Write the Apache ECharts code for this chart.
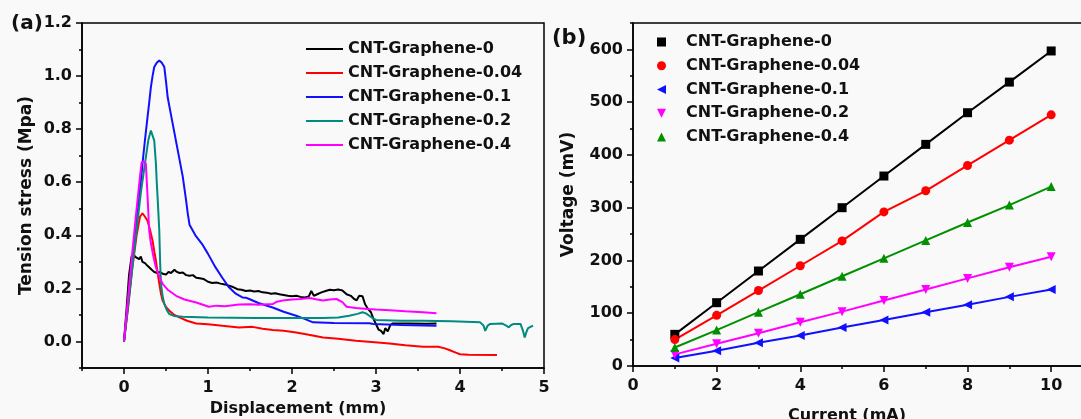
<!DOCTYPE html>
<html>
<head>
<meta charset="utf-8">
<script src="https://cdn.jsdelivr.net/npm/echarts@6/dist/echarts.min.js"></script>
<style>html,body{margin:0;padding:0;background:#f9f9f9;}#c{width:1081px;height:419px;}</style>
</head>
<body>
<div id="c"></div>
<script>
// ---------- Panel (a): tension stress vs displacement ----------
const seriesNamesA = ['CNT-Graphene-0','CNT-Graphene-0.04','CNT-Graphene-0.1','CNT-Graphene-0.2','CNT-Graphene-0.4'];
const stressG0 = [[0,0],[0.03,0.12],[0.06,0.25],[0.09,0.32],[0.11,0.335],[0.13,0.32],[0.15,0.325],[0.18,0.31],[0.2,0.32],[0.22,0.3],[0.25,0.295],[0.28,0.285],[0.3,0.28],[0.33,0.27],[0.36,0.262],[0.4,0.258],[0.43,0.262],[0.46,0.255],[0.5,0.252],[0.53,0.262],[0.56,0.258],[0.6,0.27],[0.63,0.262],[0.66,0.258],[0.7,0.26],[0.74,0.25],[0.78,0.248],[0.82,0.25],[0.86,0.24],[0.9,0.238],[0.95,0.235],[1.0,0.225],[1.05,0.22],[1.1,0.222],[1.15,0.218],[1.2,0.215],[1.25,0.21],[1.3,0.205],[1.35,0.197],[1.4,0.195],[1.45,0.19],[1.5,0.192],[1.55,0.188],[1.6,0.19],[1.65,0.185],[1.7,0.184],[1.75,0.18],[1.8,0.182],[1.85,0.178],[1.9,0.175],[1.95,0.172],[2.0,0.17],[2.05,0.172],[2.1,0.168],[2.15,0.166],[2.2,0.17],[2.23,0.19],[2.26,0.172],[2.3,0.178],[2.35,0.185],[2.4,0.19],[2.45,0.195],[2.5,0.193],[2.55,0.196],[2.6,0.192],[2.65,0.178],[2.7,0.172],[2.74,0.16],[2.77,0.155],[2.8,0.172],[2.84,0.17],[2.87,0.14],[2.9,0.125],[2.94,0.11],[2.97,0.085],[3.0,0.065],[3.03,0.045],[3.06,0.04],[3.09,0.028],[3.11,0.05],[3.14,0.038],[3.17,0.062],[3.2,0.068],[3.4,0.068],[3.6,0.067],[3.72,0.068]];
const stressG004 = [[0,0],[0.05,0.13],[0.1,0.28],[0.15,0.4],[0.19,0.47],[0.22,0.483],[0.25,0.47],[0.28,0.455],[0.31,0.42],[0.34,0.38],[0.36,0.34],[0.38,0.305],[0.4,0.26],[0.42,0.218],[0.44,0.18],[0.46,0.154],[0.5,0.13],[0.54,0.116],[0.6,0.1],[0.66,0.091],[0.75,0.078],[0.86,0.068],[1.0,0.065],[1.17,0.059],[1.37,0.053],[1.53,0.055],[1.65,0.048],[1.77,0.043],[1.9,0.04],[2.05,0.034],[2.2,0.025],[2.37,0.015],[2.55,0.01],[2.76,0.003],[2.95,-0.002],[3.16,-0.008],[3.35,-0.014],[3.56,-0.02],[3.74,-0.02],[3.82,-0.026],[3.88,-0.033],[3.95,-0.042],[4.0,-0.048],[4.1,-0.05],[4.44,-0.051]];
const stressG01 = [[0,0],[0.05,0.15],[0.1,0.3],[0.15,0.45],[0.2,0.6],[0.22,0.67],[0.25,0.76],[0.28,0.845],[0.3,0.9],[0.32,0.958],[0.34,1.0],[0.36,1.034],[0.39,1.05],[0.42,1.059],[0.45,1.05],[0.48,1.034],[0.5,0.98],[0.52,0.92],[0.55,0.87],[0.58,0.82],[0.61,0.77],[0.64,0.72],[0.67,0.67],[0.7,0.62],[0.72,0.575],[0.74,0.53],[0.76,0.48],[0.78,0.44],[0.85,0.4],[0.93,0.367],[1.0,0.33],[1.09,0.279],[1.17,0.24],[1.25,0.204],[1.33,0.18],[1.41,0.166],[1.45,0.165],[1.49,0.16],[1.6,0.145],[1.77,0.128],[1.9,0.112],[2.05,0.097],[2.15,0.085],[2.25,0.072],[2.5,0.07],[2.92,0.069],[2.97,0.066],[3.3,0.062],[3.72,0.059]];
const stressG02 = [[0,0],[0.05,0.14],[0.1,0.28],[0.15,0.42],[0.2,0.56],[0.26,0.694],[0.29,0.76],[0.32,0.795],[0.34,0.79],[0.36,0.757],[0.38,0.67],[0.39,0.6],[0.4,0.543],[0.42,0.418],[0.43,0.3],[0.44,0.217],[0.46,0.17],[0.48,0.142],[0.51,0.118],[0.54,0.103],[0.6,0.096],[0.7,0.093],[1.0,0.09],[1.57,0.088],[2.0,0.088],[2.37,0.088],[2.55,0.09],[2.68,0.097],[2.78,0.104],[2.84,0.11],[2.88,0.106],[2.92,0.097],[2.96,0.088],[3.0,0.081],[3.3,0.078],[3.56,0.078],[3.9,0.076],[4.24,0.072],[4.28,0.06],[4.3,0.04],[4.33,0.06],[4.36,0.066],[4.5,0.068],[4.55,0.06],[4.58,0.053],[4.61,0.062],[4.64,0.066],[4.72,0.066],[4.75,0.04],[4.77,0.015],[4.79,0.035],[4.81,0.05],[4.87,0.06]];
const stressG04 = [[0,0],[0.05,0.17],[0.1,0.34],[0.15,0.5],[0.19,0.62],[0.21,0.675],[0.24,0.678],[0.26,0.67],[0.28,0.55],[0.3,0.418],[0.32,0.37],[0.35,0.32],[0.38,0.279],[0.42,0.245],[0.46,0.217],[0.52,0.195],[0.62,0.172],[0.72,0.158],[0.86,0.147],[1.01,0.131],[1.1,0.135],[1.2,0.133],[1.37,0.139],[1.5,0.14],[1.6,0.138],[1.77,0.141],[1.82,0.15],[1.89,0.154],[2.0,0.158],[2.1,0.16],[2.21,0.164],[2.3,0.158],[2.37,0.154],[2.45,0.158],[2.53,0.16],[2.6,0.148],[2.65,0.131],[2.76,0.126],[2.9,0.122],[3.0,0.12],[3.16,0.118],[3.35,0.114],[3.56,0.11],[3.72,0.106]];
const xTicksA = [0,1,2,3,4,5];
const xMinorA = [-0.5,0.5,1.5,2.5,3.5,4.5];
const yTicksA = [0,0.2,0.4,0.6,0.8,1.0,1.2];
const yMinorA = [-0.1,0.1,0.3,0.5,0.7,0.9,1.1];

// ---------- Panel (b): voltage vs current ----------
const currentB = [1,2,3,4,5,6,7,8,9,10];
const voltG0 = [60,120,180,240,300,360,420,480,538,597];
const voltG004 = [50,96,143,190,237,292,332,380,428,476];
const voltG01 = [15,29,44,58,73,87,102,116,131,145];
const voltG02 = [22,42,62,83,103,124,145,166,187,207];
const voltG04 = [35,68,102,136,170,204,238,272,305,340];
const xTicksB = [0,2,4,6,8,10];
const xMinorB = [1,3,5,7,9];
const yTicksB = [0,100,200,300,400,500,600];
const yMinorB = [50,150,250,350,450,550,650];

const FONT = 'DejaVu Sans';
const colorsA = ['#000000','#ff0000','#1010ff','#008b80','#ff00ff'];
const dataA = [stressG0, stressG004, stressG01, stressG02, stressG04];
const colorsB = ['#000000','#ff0000','#1010ff','#ff00ff','#009000'];
const dataB = [voltG0, voltG004, voltG01, voltG02, voltG04];
const namesB = ['CNT-Graphene-0','CNT-Graphene-0.04','CNT-Graphene-0.1','CNT-Graphene-0.2','CNT-Graphene-0.4'];
const symbolsB = ['rect','circle','path://M10,0 L10,10 L0,5 Z','path://M0,0 L10,0 L5,10 Z','triangle'];
const SUFFIX = ' (b)';

const lbl = {fontFamily: FONT, fontWeight: 'bold', fontSize: 16, color: '#111'};
const axLine = {show: true, onZero: false, lineStyle: {color: '#000', width: 1.5}};

function mainAxis(extra) {
  return Object.assign({
    type: 'value', splitLine: {show: false}, axisLine: axLine,
    nameTextStyle: Object.assign({}, lbl)
  }, extra);
}
function minorAxis(extra) {
  return Object.assign({
    type: 'value', splitLine: {show: false},
    axisLine: {show: false, onZero: false}, axisLabel: {show: false}
  }, extra);
}

const chart = echarts.init(document.getElementById('c'), null, {renderer: 'canvas'});

const series = [];
dataA.forEach((d, i) => {
  series.push({
    name: seriesNamesA[i], type: 'line', xAxisIndex: 0, yAxisIndex: 0,
    data: d, symbol: 'none', smooth: false,
    lineStyle: {color: colorsA[i], width: 2}, itemStyle: {color: colorsA[i]},
    z: 3
  });
});
dataB.forEach((d, i) => {
  series.push({
    name: namesB[i] + SUFFIX, type: 'line', xAxisIndex: 2, yAxisIndex: 2,
    data: currentB.map((c, j) => [c, d[j]]),
    symbol: symbolsB[i], symbolSize: 9, showSymbol: true,
    lineStyle: {color: colorsB[i], width: 2}, itemStyle: {color: colorsB[i]},
    z: 3
  });
});

const option = {
  backgroundColor: '#f9f9f9',
  animation: false,
  grid: [
    {left: 82, top: 23, width: 462, height: 345, show: true, borderColor: '#000', borderWidth: 1.5, backgroundColor: 'transparent', outerBoundsMode: 'none', containLabel: false},
    {left: 633, top: 23, width: 460, height: 343, show: true, borderColor: '#000', borderWidth: 1.5, backgroundColor: 'transparent', outerBoundsMode: 'none', containLabel: false}
  ],
  xAxis: [
    mainAxis({gridIndex: 0, position: 'bottom', min: -0.5, max: 5, interval: 0.5,
      name: 'Displacement (mm)', nameLocation: 'middle', nameGap: 31,
      nameTextStyle: Object.assign({}, lbl, {padding: [0, 30, 0, 0]}),
      axisTick: {show: true, length: 6, customValues: xTicksA, lineStyle: {color: '#000', width: 1.5}},
      axisLabel: Object.assign({}, lbl, {margin: 12, customValues: xTicksA, formatter: v => String(Math.round(v))})}),
    minorAxis({gridIndex: 0, position: 'bottom', min: -0.5, max: 5, interval: 0.5,
      axisTick: {show: true, length: 3, customValues: xMinorA, lineStyle: {color: '#000', width: 1.5}}}),
    mainAxis({gridIndex: 1, position: 'bottom', min: 0, max: 11, interval: 1,
      name: 'Current (mA)', nameLocation: 'middle', nameGap: 42,
      nameTextStyle: Object.assign({}, lbl, {padding: [0, 32, 0, 0]}),
      axisTick: {show: true, length: 6, customValues: xTicksB, lineStyle: {color: '#000', width: 1.5}},
      axisLabel: Object.assign({}, lbl, {margin: 12, customValues: xTicksB, formatter: v => String(Math.round(v))})}),
    minorAxis({gridIndex: 1, position: 'bottom', min: 0, max: 11, interval: 1,
      axisTick: {show: true, length: 3, customValues: xMinorB, lineStyle: {color: '#000', width: 1.5}}})
  ],
  yAxis: [
    mainAxis({gridIndex: 0, position: 'left', min: -0.1, max: 1.2, interval: 0.1,
      name: 'Tension stress (Mpa)', nameLocation: 'middle', nameGap: 47,
      nameTextStyle: Object.assign({}, lbl, {fontSize: 17}),
      axisTick: {show: true, length: 6, customValues: yTicksA, lineStyle: {color: '#000', width: 1.5}},
      axisLabel: Object.assign({}, lbl, {margin: 10, customValues: yTicksA, formatter: v => v.toFixed(1)})}),
    minorAxis({gridIndex: 0, position: 'left', min: -0.1, max: 1.2, interval: 0.1,
      axisTick: {show: true, length: 3, customValues: yMinorA, lineStyle: {color: '#000', width: 1.5}}}),
    mainAxis({gridIndex: 1, position: 'left', min: 0, max: 650, interval: 50,
      name: 'Voltage (mV)', nameLocation: 'middle', nameGap: 56,
      nameTextStyle: Object.assign({}, lbl, {fontSize: 17}),
      axisTick: {show: true, length: 6, customValues: yTicksB, lineStyle: {color: '#000', width: 1.5}},
      axisLabel: Object.assign({}, lbl, {margin: 10, customValues: yTicksB, formatter: v => String(Math.round(v))})}),
    minorAxis({gridIndex: 1, position: 'left', min: 0, max: 650, interval: 50,
      axisTick: {show: true, length: 3, customValues: yMinorB, lineStyle: {color: '#000', width: 1.5}}})
  ],
  legend: [
    {
      orient: 'vertical', left: 305, top: 40, padding: 0,
      itemWidth: 37, itemHeight: 10, itemGap: 6,
      icon: 'inherit',
      itemStyle: {opacity: 0},
      data: seriesNamesA.map(n => ({name: n, icon: 'inherit'})),
      textStyle: Object.assign({}, lbl, {lineHeight: 18}),
      selectedMode: false
    },
    {
      orient: 'vertical', left: 657, top: 33, padding: 0,
      itemWidth: 9, itemHeight: 9, itemGap: 5.75,
      data: namesB.map((n, i) => ({name: n + SUFFIX, icon: symbolsB[i]})),
      formatter: n => n.replace(SUFFIX, ''),
      textStyle: Object.assign({}, lbl, {lineHeight: 18, padding: [0, 0, 0, 15]}),
      selectedMode: false
    }
  ],
  graphic: [
    {type: 'text', left: 11, top: 14, style: {text: '(a)', font: 'bold 20px "DejaVu Sans"', fill: '#111'}},
    {type: 'text', left: 552, top: 28, style: {text: '(b)', font: 'bold 21px "DejaVu Sans"', fill: '#111'}}
  ],
  series: series
};
chart.setOption(option);
</script>
</body>
</html>
